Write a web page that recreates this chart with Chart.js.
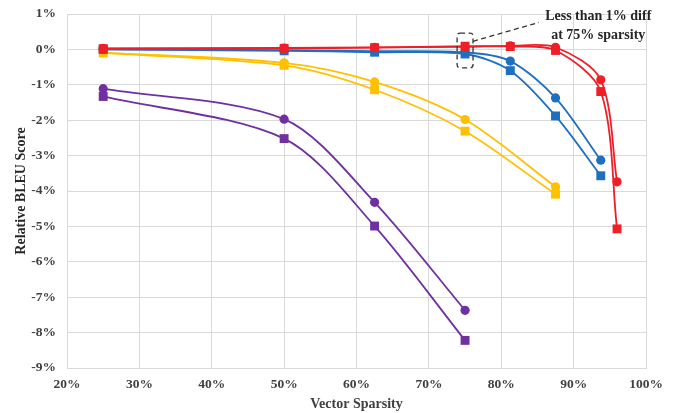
<!DOCTYPE html>
<html>
<head>
<meta charset="utf-8">
<script src="https://cdn.jsdelivr.net/npm/chart.js@4.4.1/dist/chart.umd.min.js"></script>
<style>
  html, body { margin: 0; padding: 0; background: #fff; }
  #wrap { width: 673px; height: 413px; }
</style>
</head>
<body>
<div id="wrap"><canvas id="myChart" width="673" height="413"></canvas></div>
<script>
// sparsity levels (%) per colour group
var purpleX = [25, 50, 62.5, 75];
var yellowX = [25, 50, 62.5, 75, 87.5];
var blueX = [25, 50, 62.5, 75, 81.25, 87.5, 93.75];
var redX = [25, 50, 62.5, 75, 81.25, 87.5, 93.75, 96];

// relative BLEU change (%) per series
var purpleCircle = [-1.11, -1.97, -4.32, -7.37];
var purpleSquare = [-1.33, -2.52, -4.99, -8.22];
var yellowCircle = [-0.09, -0.38, -0.92, -1.98, -3.88];
var yellowSquare = [-0.10, -0.45, -1.14, -2.31, -4.09];
var blueCircle = [0.00, -0.02, -0.05, -0.08, -0.33, -1.37, -3.13];
var blueSquare = [0.00, -0.04, -0.08, -0.13, -0.60, -1.88, -3.57];
var redCircle = [0.03, 0.04, 0.06, 0.07, 0.10, 0.06, -0.86, -3.74];
var redSquare = [0.02, 0.03, 0.05, 0.09, 0.08, -0.03, -1.19, -5.07];

var xTicks = [20, 30, 40, 50, 60, 70, 80, 90, 100];
var yTicks = [1, 0, -1, -2, -3, -4, -5, -6, -7, -8, -9];

var noteLines = ['Less than 1% diff', 'at 75% sparsity'];

var serif = '"Liberation Serif", "Times New Roman", serif';

function pts(xs, values) {
  var out = [];
  for (var i = 0; i < values.length; i++) {
    out.push({ x: xs[i], y: values[i] });
  }
  return out;
}

function series(xs, values, color, shape) {
  return {
    data: pts(xs, values),
    borderColor: color,
    backgroundColor: color,
    borderWidth: 1.8,
    pointStyle: shape,
    pointRadius: shape === 'rect' ? 6.3 : 4.6,
    pointBorderWidth: 0,
    tension: 0.3,
    fill: false
  };
}

// dashed box + leader line + note
var notePlugin = {
  id: 'note',
  afterDatasetsDraw: function(chart) {
    var ctx = chart.ctx;
    var xs = chart.scales.x;
    var ys = chart.scales.y;
    var x0 = xs.getPixelForValue(73.9);
    var x1 = xs.getPixelForValue(76.1);
    var y0 = ys.getPixelForValue(0.46);
    var y1 = ys.getPixelForValue(-0.52);
    ctx.save();
    ctx.strokeStyle = '#333333';
    ctx.lineWidth = 1.3;
    ctx.setLineDash([5, 3.5]);
    ctx.beginPath();
    var r = 3;
    ctx.moveTo(x0 + r, y0);
    ctx.lineTo(x1 - r, y0);
    ctx.quadraticCurveTo(x1, y0, x1, y0 + r);
    ctx.lineTo(x1, y1 - r);
    ctx.quadraticCurveTo(x1, y1, x1 - r, y1);
    ctx.lineTo(x0 + r, y1);
    ctx.quadraticCurveTo(x0, y1, x0, y1 - r);
    ctx.lineTo(x0, y0 + r);
    ctx.quadraticCurveTo(x0, y0, x0 + r, y0);
    ctx.stroke();
    ctx.beginPath();
    ctx.moveTo(x1, ys.getPixelForValue(0.23));
    ctx.lineTo(xs.getPixelForValue(85.2), ys.getPixelForValue(0.76));
    ctx.stroke();
    ctx.setLineDash([]);
    ctx.fillStyle = '#262626';
    ctx.font = 'bold 14px ' + serif;
    ctx.textAlign = 'center';
    ctx.textBaseline = 'middle';
    var cx = xs.getPixelForValue(93.4);
    ctx.fillText(noteLines[0], cx, ys.getPixelForValue(0.92));
    ctx.fillText(noteLines[1], cx, ys.getPixelForValue(0.39));
    ctx.restore();
  }
};

var ctx = document.getElementById('myChart').getContext('2d');

new Chart(ctx, {
  type: 'line',
  data: {
    datasets: [
      series(redX, redSquare, '#EE1F26', 'rect'),
      series(redX, redCircle, '#EE1F26', 'circle'),
      series(blueX, blueSquare, '#1F6FC0', 'rect'),
      series(blueX, blueCircle, '#1F6FC0', 'circle'),
      series(yellowX, yellowSquare, '#FFC000', 'rect'),
      series(yellowX, yellowCircle, '#FFC000', 'circle'),
      series(purpleX, purpleSquare, '#7030A0', 'rect'),
      series(purpleX, purpleCircle, '#7030A0', 'circle')
    ]
  },
  options: {
    responsive: false,
    animation: false,
    layout: { padding: { top: 14, right: 27, left: 0, bottom: 0 } },
    scales: {
      x: {
        type: 'linear',
        min: 20,
        max: 100,
        afterBuildTicks: function(axis) {
          axis.ticks = xTicks.map(function(v) { return { value: v }; });
        },
        afterFit: function(axis) { axis.height = 45; },
        grid: { color: '#D9D9D9', lineWidth: 1, drawTicks: false },
        border: { color: '#D9D9D9' },
        ticks: {
          padding: 8,
          color: '#404040',
          font: { family: serif, size: 13.5, weight: 'bold' },
          callback: function(v) { return v + '%'; }
        },
        title: {
          display: true,
          text: 'Vector Sparsity',
          color: '#404040',
          padding: { top: 4, bottom: 0 },
          font: { family: serif, size: 14, weight: 'bold' }
        }
      },
      y: {
        type: 'linear',
        min: -9,
        max: 1,
        afterBuildTicks: function(axis) {
          axis.ticks = yTicks.map(function(v) { return { value: v }; });
        },
        afterFit: function(axis) {
          axis.width = 67;
          axis.paddingTop = 0;
          axis.paddingBottom = 0;
        },
        grid: { color: '#D9D9D9', lineWidth: 1, drawTicks: false },
        border: { color: '#D9D9D9' },
        ticks: {
          padding: 11,
          color: '#404040',
          font: { family: serif, size: 13.5, weight: 'bold' },
          callback: function(v) { return v + '%'; }
        },
        title: {
          display: true,
          text: 'Relative BLEU Score',
          color: '#262626',
          padding: { top: 13, bottom: 0 },
          font: { family: serif, size: 14, weight: 'bold' }
        }
      }
    },
    plugins: {
      legend: { display: false },
      tooltip: { enabled: false }
    }
  },
  plugins: [notePlugin]
});
</script>
</body>
</html>
